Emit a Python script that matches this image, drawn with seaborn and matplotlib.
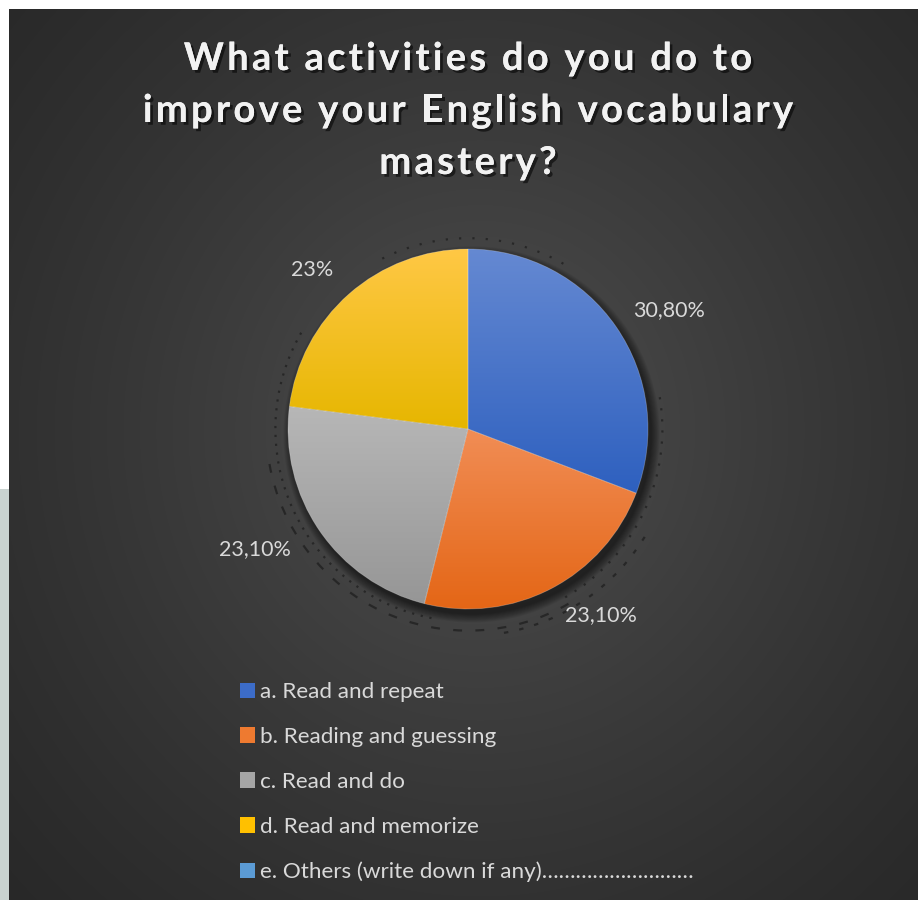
import numpy as np
import matplotlib
matplotlib.use("Agg")
import matplotlib.pyplot as plt
import matplotlib.patheffects as pe
from matplotlib.patches import Patch, Rectangle, Circle, Arc
from matplotlib import font_manager
from matplotlib.ft2font import FT2Font, LoadFlags
import seaborn as sns

sns.set_style("dark")
plt.rcParams["font.family"] = ["Lato", "DejaVu Sans"]

# ---- data ----
title_lines = ["What activities do you do to",
               "improve your English vocabulary",
               "mastery?"]
categories = ["a. Read and repeat",
              "b. Reading and guessing",
              "c. Read and do",
              "d. Read and memorize",
              "e. Others (write down if any)………………………"]
shares = [30.8, 23.1, 23.1, 23.0, 0.0]
share_labels = ["30,80%", "23,10%", "23,10%", "23%", ""]

# slice colours: (top of gradient, bottom of gradient, legend colour)
grad_top = ["#6589D2", "#F18D55", "#B7B7B7", "#FFC845", "#6FA8DC"]
grad_bot = ["#2E60BF", "#E46616", "#969696", "#E6B600", "#4A8FD0"]
legend_cols = ["#3C6CC8", "#EE7A30", "#A5A5A5", "#FFC000", "#5B9BD5"]

W, H = 918, 900
DPI = 100
fig = plt.figure(figsize=(W / DPI, H / DPI), dpi=DPI)
fig.patch.set_facecolor("white")

# ---- background panel ----
bg = fig.add_axes([0, 0, 1, 1])
bg.axis("off")
px0, py0 = 9, 9
yy, xx = np.mgrid[py0:H, px0:W]
d = np.hypot((xx - 480) / 1.0, (yy - 430) / 1.05)
t = np.clip(d / 720.0, 0, 1)
v = 0.150 + (0.310 - 0.150) * (1 - t) ** 1.3
img = np.dstack([v, v, v])
bg.imshow(img, extent=(px0, W, H, py0), aspect="auto", interpolation="bilinear", zorder=0)
bg.add_patch(Rectangle((0, 489), px0, H - 489, color="#C9D3D0", zorder=1, lw=0))
bg.set_xlim(0, W)
bg.set_ylim(H, 0)

# ---- title with tracked (letter-spaced) lettering ----
title_size = 27.5
tracking = 3.2  # extra pixels between letters
bold_path = font_manager.findfont(font_manager.FontProperties(family="Lato", weight="bold"))
ft = FT2Font(bold_path)
ft.set_size(title_size, DPI)


def advances(s):
    return [ft.load_char(ord(c), flags=LoadFlags.NO_HINTING).linearHoriAdvance / 65536.0 for c in s]


shadow = [pe.withSimplePatchShadow(offset=(2, -2), shadow_rgbFace="black", alpha=0.55), pe.Normal()]
for i, line in enumerate(title_lines):
    adv = advances(line)
    total = sum(adv) + tracking * (len(line) - 1)
    x = 468 - total / 2
    ybase = 70 + i * 52
    for c, a in zip(line, adv):
        if c != " ":
            bg.text(x, ybase, c, ha="left", va="baseline", fontsize=title_size,
                    fontweight="bold", color="#F2F2F2", path_effects=shadow, zorder=5)
        x += a + tracking

# ---- pie ----
cx, cy, R = 468, 429, 180
S = 2.0  # axes half-span in radius units
ax = fig.add_axes([(cx - S * R) / W, (H - cy - S * R) / H, 2 * S * R / W, 2 * S * R / H])
ax.axis("off")

# soft drop shadow under the pie
for k in range(10):
    ax.add_patch(Circle((0.02, -0.03), 1.0 + 0.005 * k, color="black",
                        alpha=0.06, lw=0, zorder=1))

# faint decorative dotted rings
for r, a1, a2, ls in [(1.07, 150, 260, (0, (1, 3))), (1.12, 190, 300, (0, (4, 6))),
                      (1.08, 300, 370, (0, (1, 4))), (1.15, 280, 330, (0, (2, 5))),
                      (1.06, 60, 120, (0, (1, 5)))]:
    ax.add_patch(Arc((0, 0), 2 * r, 2 * r, theta1=a1, theta2=a2, color="#1c1c1c",
                     lw=1.6, ls=ls, alpha=0.7, zorder=1))

wedges, _ = ax.pie(shares, startangle=90, counterclock=False, radius=1.0,
                   wedgeprops=dict(facecolor="none", edgecolor=(1, 1, 1, 0.25), lw=0.6))
for i, w in enumerate(wedges):
    if shares[i] <= 0:
        continue
    ext = w.get_path().get_extents()
    n = 256
    c0 = np.array(matplotlib.colors.to_rgb(grad_top[i]))
    c1 = np.array(matplotlib.colors.to_rgb(grad_bot[i]))
    f = np.linspace(0, 1, n)[:, None]
    grad = (c0[None, :] * (1 - f) + c1[None, :] * f)[:, None, :]
    im = ax.imshow(grad, extent=(ext.x0, ext.x1, ext.y0, ext.y1), aspect="auto",
                   origin="upper", zorder=2, interpolation="bilinear")
    im.set_clip_path(w)
    w.set_zorder(3)

# data labels beside each slice
label_dist = [1.30, 1.27, 1.36, 1.24]
label_nudge = [-4.0, 8.0, -5.0, 3.0]
for i, w in enumerate(wedges):
    if not share_labels[i]:
        continue
    ang = np.deg2rad((w.theta1 + w.theta2) / 2 + label_nudge[i])
    ax.text(label_dist[i] * np.cos(ang), label_dist[i] * np.sin(ang), share_labels[i],
            ha="center", va="center", fontsize=15.5, color="#D9D9D9", zorder=6)

ax.set_xlim(-S, S)
ax.set_ylim(-S, S)
ax.set_aspect("equal")

# ---- legend ----
handles = [Patch(facecolor=c, edgecolor="none") for c in legend_cols]
leg = fig.legend(handles, categories, loc="upper left",
                 bbox_to_anchor=(240 / W, 1 - 682 / H), frameon=False,
                 fontsize=16.2, labelcolor="#D9D9D9", handlelength=0.66, handleheight=0.66,
                 handletextpad=0.25, labelspacing=1.11, borderpad=0, borderaxespad=0)

fig.savefig("out.png", dpi=DPI, facecolor=fig.get_facecolor())
